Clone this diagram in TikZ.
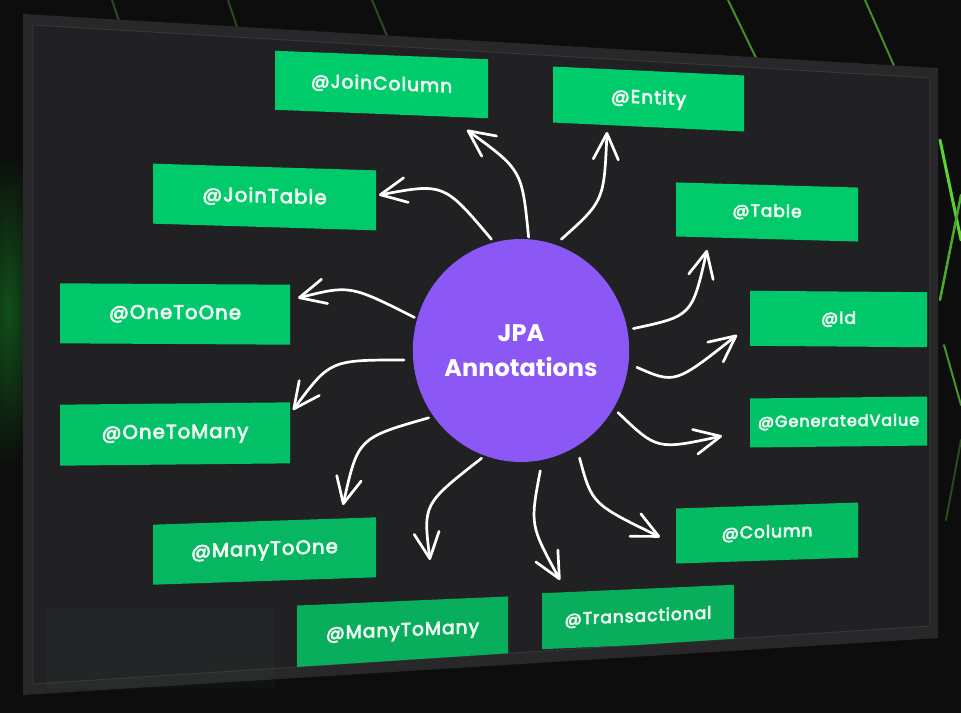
\documentclass[tikz,border=0pt]{standalone}
\usepackage{fontspec}
\setmainfont{Poppins}
\newfontfamily\tagfont{Poppins}[LetterSpace=6, FakeBold=4]
\usetikzlibrary{arrows.meta,shapes.geometric}

\definecolor{bgdark}{RGB}{12,13,12}
\definecolor{bezel}{RGB}{40,40,42}
\definecolor{board}{RGB}{33,33,35}
\definecolor{boardline}{RGB}{58,58,60}
\definecolor{grnhi}{RGB}{0,204,108}
\definecolor{grnlo}{RGB}{16,150,78}
\definecolor{violet}{RGB}{139,88,246}
\definecolor{streakdim}{RGB}{40,76,28}
\definecolor{streakhi}{RGB}{90,210,50}
\definecolor{glowgreen}{RGB}{18,80,26}
\definecolor{tagtext}{RGB}{236,246,240}
\definecolor{glare}{RGB}{70,100,80}

\tikzset{
  tagbox/.style={inner sep=0pt, text=tagtext, fill=grnhi!#1!grnlo,
    font=\tagfont\fontsize{18.5}{18.5}\selectfont},
  nearside/.style={font=\tagfont\fontsize{19.5}{19.5}\selectfont},
  farside/.style={font=\tagfont\fontsize{17}{17}\selectfont},
  conn/.style={draw=white, line width=2.7pt, line cap=round,
    -{Straight Barb[length=26pt,width=25pt,round]}},
  streak/.style={draw=streakdim, line width=2pt, line cap=round},
}

\begin{document}
\begin{tikzpicture}[x=1pt,y=-1pt]
\useasboundingbox (0,0) rectangle (961,713);
\fill[bgdark] (0,0) rectangle (961,713);

% glowing honeycomb light on the left edge
\begin{scope}
  \clip (0,0) rectangle (23,713);
  \shade[inner color=glowgreen, outer color=bgdark] (8,310) ellipse (34pt and 160pt);
\end{scope}

% cable streaks behind the screen
\draw[streak] (112,0) -- (122,30);
\draw[streak] (228,0) -- (240,36);
\draw[streak] (372,0) -- (392,48);
\draw[streak, draw=streakhi!50!streakdim] (728,0) -- (757,60);
\draw[streak, draw=streakhi!50!streakdim] (865,0) -- (895,68);
\draw[streak, draw=streakhi, line width=3pt] (940,140) -- (961,240);
\draw[streak, draw=streakhi!70!streakdim, line width=2.5pt] (940,300) -- (961,195);
\draw[streak, draw=streakhi!55!streakdim] (944,345) -- (961,405);
\draw[streak] (946,520) -- (961,440);

% the screen
\fill[bezel] (23,14) -- (938,68) -- (938,638) -- (23,695) -- cycle;
\fill[board] (33,25) -- (930,78) -- (930,626) -- (33,684) -- cycle;
\draw[boardline, line width=0.8pt] (33,25) -- (930,78) -- (930,626) -- (33,684) -- cycle;
\fill[glare, opacity=0.07] (45,608) rectangle (275,688);

% annotation tags
\begin{scope}
  \clip (33,25) -- (930,78) -- (930,626) -- (33,684) -- cycle;
  \node[tagbox=100, minimum width=213pt, minimum height=59pt, yslant=-0.04, transform shape] (joincolumn) at (381.5,84.5) {@JoinColumn};
  \node[tagbox=100, minimum width=191pt, minimum height=56pt, yslant=-0.047, transform shape] (entity) at (648.5,99) {@Entity};
  \node[tagbox=96, nearside, minimum width=223pt, minimum height=60pt, yslant=-0.03, transform shape] (jointable) at (264.5,197) {@JoinTable};
  \node[tagbox=96, farside, minimum width=182pt, minimum height=54pt, yslant=-0.028, transform shape] (table) at (767,212) {@Table};
  \node[tagbox=92, nearside, minimum width=230pt, minimum height=60pt, yslant=-0.006, transform shape] (onetoone) at (175,314) {@OneToOne};
  \node[tagbox=95, farside, minimum width=177pt, minimum height=55pt, yslant=-0.008, transform shape] (id) at (838.5,319) {@Id};
  \node[tagbox=80, nearside, minimum width=230pt, minimum height=61pt, yslant=0.01, transform shape] (onetomany) at (175,434) {@OneToMany};
  \node[tagbox=85, minimum width=177pt, minimum height=49pt, yslant=0.011, transform shape, font=\tagfont\fontsize{16}{16}\selectfont] (generatedvalue) at (838.5,422) {@GeneratedValue};
  \node[tagbox=60, nearside, minimum width=223pt, minimum height=60pt, yslant=0.033, transform shape] (manytoone) at (264.5,551) {@ManyToOne};
  \node[tagbox=68, farside, minimum width=182pt, minimum height=55pt, yslant=0.033, transform shape] (column) at (767,533) {@Column};
  \node[tagbox=45, minimum width=211pt, minimum height=62pt, yslant=0.043, transform shape] (manytomany) at (402.5,632) {@ManyToMany};
  \node[tagbox=45, farside, minimum width=192pt, minimum height=56pt, yslant=0.044, transform shape] (transactional) at (638,617) {@Transactional};
\end{scope}

% central topic
\node[ellipse, fill=violet, inner sep=0pt, minimum width=208pt, minimum height=223pt,
      align=center, text=white, font=\bfseries\fontsize{24}{35}\selectfont] (jpa) at (521,350.5) {JPA\\Annotations};

% arrow tips
\coordinate (tJC) at (467,130);
\coordinate (tEN) at (607,132);
\coordinate (tJT) at (379,195);
\coordinate (tOO) at (298,298);
\coordinate (tTB) at (707,250);
\coordinate (tID) at (737,335);
\coordinate (tOM) at (293,410);
\coordinate (tGV) at (722,436);
\coordinate (tMO) at (343,505);
\coordinate (tMM) at (430,560);
\coordinate (tTR) at (560,580);
\coordinate (tCO) at (660,537);

% hand-drawn connectors
\draw[conn, shorten <=2pt]  (jpa.86.5)  .. controls (522,170) .. (tJC);
\draw[conn, shorten <=8pt]  (jpa.72.9)  .. controls (604,201) .. (tEN);
\draw[conn, shorten <=4pt]  (jpa.104.6) .. controls (444,183) .. (tJT);
\draw[conn, shorten <=3pt]  (jpa.163)   .. controls (350,285) .. (tOO);
\draw[conn, shorten <=6pt]  (jpa.11.3)  .. controls (692,316) .. (tTB);
\draw[conn, shorten <=9pt]  (jpa.-7.4)  .. controls (675,384) .. (tID);
\draw[conn, shorten <=9pt]  (jpa.185.8) .. controls (330,360) .. (tOM);
\draw[conn, shorten <=6pt]  (jpa.-32.5) .. controls (657,450) .. (tGV);
\draw[conn, shorten <=5pt]  (jpa.217.2) .. controls (358,438) .. (tMO);
\draw[conn, shorten <=4pt]  (jpa.251.2) .. controls (423,504) .. (tMM);
\draw[conn, shorten <=11pt] (jpa.281.4) .. controls (530,525) .. (tTR);
\draw[conn, shorten <=12pt] (jpa.300.7) .. controls (592,504) .. (tCO);
\end{tikzpicture}
\end{document}
